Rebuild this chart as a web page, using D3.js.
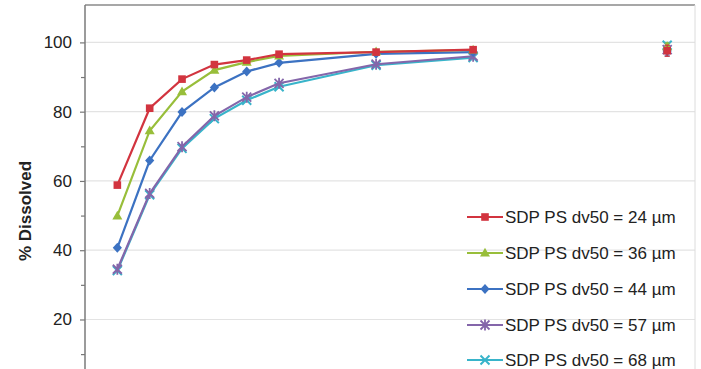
<!DOCTYPE html>
<html>
<head>
<meta charset="utf-8">
<script src="https://cdn.jsdelivr.net/npm/d3@7"></script>
<style>
  html, body { margin: 0; padding: 0; background: #fff; }
  svg { display: block; font-family: "Liberation Sans", Arial, sans-serif; }
</style>
</head>
<body>
<svg id="chart" width="701" height="369"></svg>
<script>
// Sampling times (min) for the connected profiles
const times = [5, 10, 15, 20, 25, 30, 45, 60];
// Final (infinity) sampling time, plotted unconnected
const finalTime = 90;

const seriesNames = [
  "SDP PS dv50 = 24 \u00b5m",
  "SDP PS dv50 = 36 \u00b5m",
  "SDP PS dv50 = 44 \u00b5m",
  "SDP PS dv50 = 57 \u00b5m",
  "SDP PS dv50 = 68 \u00b5m"
];

// % dissolved at each time point
const dv24 = [58.8, 81.0, 89.4, 93.6, 94.9, 96.6, 97.2, 97.9];
const dv36 = [49.9, 74.5, 85.8, 92.0, 94.3, 96.1, 97.3, 97.8];
const dv44 = [40.7, 65.9, 79.9, 87.0, 91.6, 94.1, 96.7, 97.2];
const dv57 = [34.5, 56.4, 69.9, 78.8, 84.2, 88.2, 93.7, 96.0];
const dv68 = [34.1, 56.0, 69.4, 78.0, 83.3, 87.2, 93.4, 95.6];

// Final-time values and their standard deviations
const finalValues = [97.6, 98.8, 97.5, 97.9, 99.2];
const finalSD = [1.6, 1.0, 1.4, 1.2, 0.8];

// Y axis labels and minor tick positions
const yLabels = [20, 40, 60, 80, 100];
const yMinor = [10, 30, 50, 70, 90];

const seriesValues = [dv24, dv36, dv44, dv57, dv68];
const colors = ["#D2343F", "#98BE3A", "#3C72C2", "#8466AA", "#38B4CA"];
const shapes = ["square", "triangle", "diamond", "star", "cross"];

const svg = d3.select("#chart");

const x = d3.scaleLinear().domain([0, 94.3]).range([85, 695]);
const y = d3.scaleLinear().domain([0, 110.8]).range([388.75, 5]);

const plotTop = y(110.8), plotBottom = 369;

// Horizontal gridlines
svg.append("g")
  .selectAll("line")
  .data(yLabels)
  .join("line")
  .attr("x1", x(0)).attr("x2", x(94.3))
  .attr("y1", d => y(d)).attr("y2", d => y(d))
  .attr("stroke", "#e3e3e3").attr("stroke-width", 1.2);

// Plot frame: top and right edges
svg.append("line")
  .attr("x1", x(0)).attr("x2", x(94.3))
  .attr("y1", plotTop).attr("y2", plotTop)
  .attr("stroke", "#8a8a8a").attr("stroke-width", 1.5);
svg.append("line")
  .attr("x1", x(94.3)).attr("x2", x(94.3))
  .attr("y1", plotTop).attr("y2", plotBottom)
  .attr("stroke", "#dcdcdc").attr("stroke-width", 1);

// Y axis (labelled majors)
const yAxis = svg.append("g")
  .attr("transform", `translate(${x(0)},0)`)
  .call(d3.axisLeft(y).tickValues(yLabels).tickSize(5).tickPadding(8));
yAxis.select(".domain").remove();
yAxis.selectAll(".tick line").attr("stroke", "#777").attr("stroke-width", 1.2);
yAxis.selectAll(".tick text")
  .attr("font-size", 17).attr("fill", "#222")
  .attr("font-family", "'Liberation Sans', Arial, sans-serif");

// Y axis minor ticks
const yMinorAxis = svg.append("g")
  .attr("transform", `translate(${x(0)},0)`)
  .call(d3.axisLeft(y).tickValues(yMinor).tickSize(4).tickFormat(""));
yMinorAxis.select(".domain").remove();
yMinorAxis.selectAll(".tick line").attr("stroke", "#777").attr("stroke-width", 1.2);

// Y axis line
svg.append("line")
  .attr("x1", x(0)).attr("x2", x(0))
  .attr("y1", plotTop).attr("y2", plotBottom)
  .attr("stroke", "#7a7a7a").attr("stroke-width", 1.5);

// Y axis title
svg.append("text")
  .attr("transform", `translate(31,${(y(20) + y(100)) / 2 + 30}) rotate(-90)`)
  .attr("text-anchor", "middle")
  .attr("font-size", 17).attr("font-weight", "bold").attr("fill", "#222")
  .text("% Dissolved");

// Marker drawing
function drawMarker(g, shape, color, cx, cy) {
  const m = g.append("g").attr("transform", `translate(${cx},${cy})`);
  if (shape === "square") {
    m.append("rect").attr("x", -3.8).attr("y", -3.8).attr("width", 7.6).attr("height", 7.6)
      .attr("fill", color);
  } else if (shape === "triangle") {
    m.append("path").attr("d", "M0,-5.2L5,3.6L-5,3.6Z").attr("fill", color);
  } else if (shape === "diamond") {
    m.append("path").attr("d", "M0,-5L4.6,0L0,5L-4.6,0Z").attr("fill", color);
  } else if (shape === "star") {
    m.append("path").attr("d", "M-4.5,-4.5L4.5,4.5M-4.5,4.5L4.5,-4.5M0,-5.5L0,5.5")
      .attr("stroke", color).attr("stroke-width", 1.8).attr("fill", "none");
  } else {
    m.append("path").attr("d", "M-4.5,-4.5L4.5,4.5M-4.5,4.5L4.5,-4.5")
      .attr("stroke", color).attr("stroke-width", 2).attr("fill", "none");
  }
}

const line = d3.line().x(d => x(d[0])).y(d => y(d[1]));

// Draw series from the last to the first so the fastest profile sits on top
for (let i = seriesValues.length - 1; i >= 0; i--) {
  const pts = times.map((t, j) => [t, seriesValues[i][j]]);
  const g = svg.append("g");
  g.append("path").datum(pts)
    .attr("d", line)
    .attr("fill", "none").attr("stroke", colors[i]).attr("stroke-width", 2.2);
  pts.forEach(p => drawMarker(g, shapes[i], colors[i], x(p[0]), y(p[1])));

  // Final time point with error bar
  const fx = x(finalTime);
  g.append("line")
    .attr("x1", fx).attr("x2", fx)
    .attr("y1", y(finalValues[i] - finalSD[i])).attr("y2", y(finalValues[i] + finalSD[i]))
    .attr("stroke", colors[i]).attr("stroke-width", 1.2);
  [finalValues[i] - finalSD[i], finalValues[i] + finalSD[i]].forEach(v => {
    g.append("line")
      .attr("x1", fx - 2.5).attr("x2", fx + 2.5)
      .attr("y1", y(v)).attr("y2", y(v))
      .attr("stroke", colors[i]).attr("stroke-width", 1.2);
  });
  drawMarker(g, shapes[i], colors[i], fx, y(finalValues[i]));
}

// Legend
const legend = svg.append("g");
const legendY = [217, 253, 289, 325, 360];
seriesNames.forEach((name, i) => {
  const row = legend.append("g").attr("transform", `translate(0,${legendY[i]})`);
  row.append("line").attr("x1", 467).attr("x2", 503).attr("y1", 0).attr("y2", 0)
    .attr("stroke", colors[i]).attr("stroke-width", 2.2);
  drawMarker(row, shapes[i], colors[i], 485, 0);
  row.append("text").attr("x", 505).attr("y", 0).attr("dy", "0.35em")
    .attr("font-size", 17).attr("fill", "#222").text(name);
});
</script>
</body>
</html>
